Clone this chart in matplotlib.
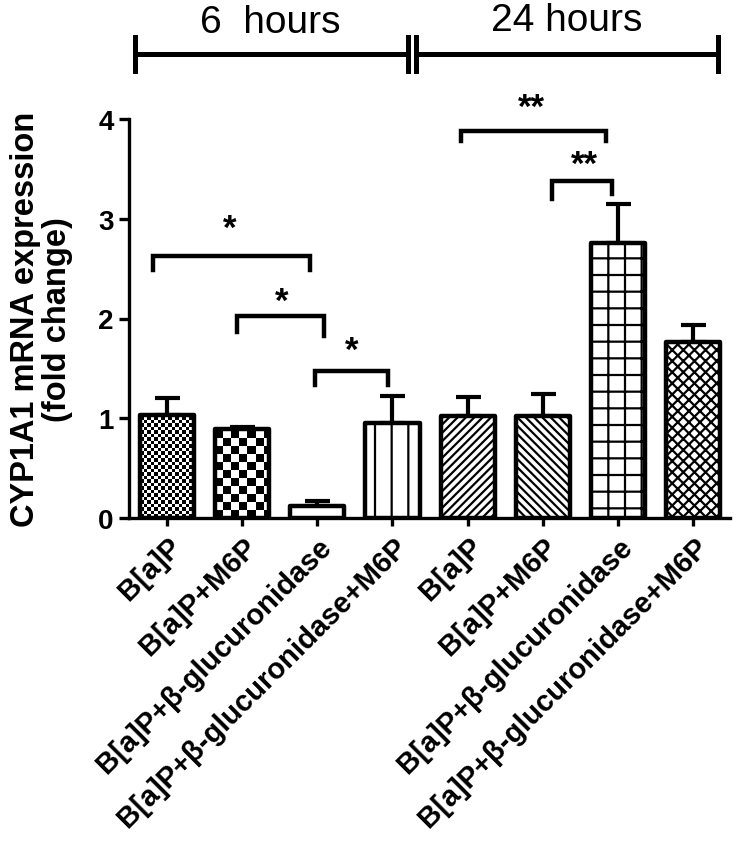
import numpy as np
import matplotlib
matplotlib.use("Agg")
import matplotlib.pyplot as plt

plt.rcParams['font.family'] = ['Liberation Sans', 'DejaVu Sans']
plt.rcParams['hatch.linewidth'] = 1.6

labels = ['B[a]P', 'B[a]P+M6P', 'B[a]P+β-glucuronidase', 'B[a]P+β-glucuronidase+M6P',
          'B[a]P', 'B[a]P+M6P', 'B[a]P+β-glucuronidase', 'B[a]P+β-glucuronidase+M6P']
means = [1.03, 0.89, 0.12, 0.95, 1.02, 1.02, 2.76, 1.76]
errors = [0.17, 0.02, 0.05, 0.27, 0.19, 0.22, 0.39, 0.17]
hatches = [None, None, '', '|', '////', '\\\\\\\\', '+', 'xxx']
checker_px = [3.5, 8, None, None, None, None, None, None]

# significance brackets: left x, right x, bar height, left drop, right drop, text, text x, text y
br_x1 = [-0.19, 0.93, 1.97, 3.91, 5.12]
br_x2 = [1.90, 2.09, 2.94, 5.84, 5.92]
br_y = [2.63, 2.03, 1.47, 3.88, 3.38]
br_dl = [0.14, 0.17, 0.14, 0.10, 0.18]
br_dr = [0.14, 0.21, 0.14, 0.10, 0.13]
br_txt = ['*', '*', '*', '**', '**']
br_tx = [0.84, 1.53, 2.46, 4.85, 5.56]
br_ty = [2.90, 2.17, 1.68, 4.12, 3.55]

groups = ['6  hours', '24 hours']

fig = plt.figure(figsize=(7.34, 8.45), dpi=100)
ax = fig.add_axes([129 / 734, 1 - 519 / 845, 601 / 734, 399 / 845])

x = np.arange(len(means))
width = 0.72
px_x = 75.2   # pixels per bar unit
px_y = 99.75  # pixels per y unit

faces = ['none' if c else 'white' for c in checker_px]
bars = ax.bar(x, means, width, color=faces, edgecolor='black', linewidth=3.2,
              joinstyle='round', zorder=3)
for b, h in zip(bars, hatches):
    if h:
        b.set_hatch(h)

# checkerboard fills
for b, s in zip(bars, checker_px):
    if s is None:
        continue
    x0 = b.get_x()
    w = b.get_width()
    hgt = b.get_height()
    nx = int(round(w * px_x / s))
    ny = int(round(hgt * px_y / s))
    grid = (np.add.outer(np.arange(ny), np.arange(nx)) % 2).astype(float)
    im = ax.imshow(grid, extent=(x0, x0 + nx * s / px_x, 0, ny * s / px_y), cmap='gray',
                   origin='lower', aspect='auto', interpolation='nearest', zorder=2.5)
    im.set_clip_path(b)

ax.errorbar(x, means, yerr=[np.zeros(len(errors)), errors], fmt='none', ecolor='black',
            elinewidth=3, capsize=9, capthick=3, zorder=2)

for i in range(len(br_x1)):
    ax.plot([br_x1[i], br_x1[i], br_x2[i], br_x2[i]],
            [br_y[i] - br_dl[i], br_y[i], br_y[i], br_y[i] - br_dr[i]],
            color='black', lw=3.2, solid_joinstyle='miter', clip_on=False, zorder=4)
    ax.text(br_tx[i], br_ty[i], br_txt[i], ha='center', va='center', fontsize=25,
            fontweight='bold')

# time group lines above the plot
ty = 4.65
ax.plot([-0.43, 3.20], [ty, ty], color='black', lw=3.6, clip_on=False)
ax.plot([3.31, 7.33], [ty, ty], color='black', lw=3.6, clip_on=False)
for xx in [-0.43, 3.20, 3.31, 7.33]:
    ax.plot([xx, xx], [4.48, 4.82], color='black', lw=3.6, clip_on=False)
ax.text(1.37, 4.97, groups[0], ha='center', va='center', fontsize=28)
ax.text(5.32, 4.99, groups[1], ha='center', va='center', fontsize=28)

ax.set_xlim(-0.505, 7.49)
ax.set_ylim(0, 4)
ax.set_yticks([0, 1, 2, 3, 4])
ax.set_xticks(x)
ax.set_xticklabels(labels, rotation=45, ha='right', rotation_mode='anchor',
                   fontsize=21, fontweight='bold')
for t in ax.get_yticklabels():
    t.set_fontweight('bold')
ax.tick_params(axis='y', labelsize=20, width=2.4, length=7, pad=4)
ax.tick_params(axis='x', width=2.4, length=6, pad=4)
ax.spines['top'].set_visible(False)
ax.spines['right'].set_visible(False)
ax.spines['left'].set_linewidth(2.4)
ax.spines['bottom'].set_linewidth(2.4)
ax.set_ylabel('CYP1A1 mRNA expression\n(fold change)', fontsize=23.5, fontweight='bold',
              linespacing=1.05, labelpad=18)

fig.savefig('out.png', dpi=100)
